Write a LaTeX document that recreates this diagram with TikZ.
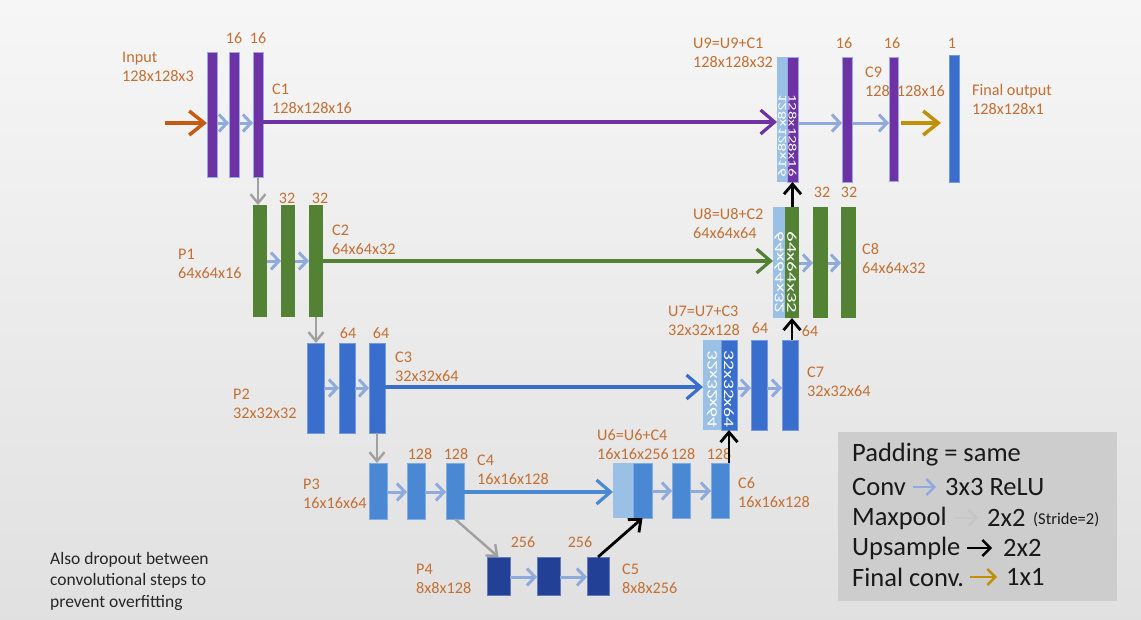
\documentclass[tikz,border=0pt]{standalone}
\usepackage{fontspec}
\setmainfont{Carlito}
\usetikzlibrary{arrows.meta}
\definecolor{cpurple}{RGB}{110,50,165}
\definecolor{cgreen}{RGB}{84,130,53}
\definecolor{cblue3}{RGB}{58,110,205}
\definecolor{cblue4}{RGB}{74,136,212}
\definecolor{cnavy}{RGB}{33,64,150}
\definecolor{clight}{RGB}{155,192,230}
\definecolor{cconv}{RGB}{143,170,220}
\definecolor{cpool}{RGB}{160,160,160}
\definecolor{corange}{RGB}{197,90,17}
\definecolor{cgold}{RGB}{191,144,0}
\definecolor{clab}{RGB}{196,112,52}
\definecolor{cedge}{RGB}{150,170,235}
\definecolor{cleg}{RGB}{205,205,205}
\newcommand\mybar[6]{\node[bar,#6,minimum width=#4,minimum height=#5] (#1) at (#2,#3) {};}
\tikzset{
  bar/.style={inner sep=0pt, outer sep=0pt, anchor=north west},
  pbar/.style={fill=cpurple, draw=cedge, line width=0.8pt},
  gbar/.style={fill=cgreen},
  b3bar/.style={fill=cblue3, draw=cblue3!70!white, line width=0.6pt},
  b4bar/.style={fill=cblue4, draw=cblue4!70!white, line width=0.6pt},
  nbar/.style={fill=cnavy, draw=cnavy!70!white, line width=0.6pt},
  lbar/.style={fill=clight},
  lab/.style={text=clab, font=\fontsize{16.2}{19}\selectfont, align=left, anchor=west, inner sep=0pt},
  num/.style={text=clab, font=\fontsize{16}{18}\selectfont, inner sep=0pt},
  vtxt/.style={text=white, inner sep=0pt},
  convarr/.style={draw=cconv, line width=3pt, -{Straight Barb[length=8pt,width=17pt]}},
  poolarr/.style={draw=cpool, line width=2.4pt, -{Straight Barb[length=9pt,width=15pt]}},
  uparr/.style={draw=black, line width=2.8pt, -{Straight Barb[length=10pt,width=17pt]}},
  skiparr/.style={line width=3.2pt, -{Straight Barb[length=14pt,width=24pt]}},
  inarr/.style={draw=corange, line width=3.5pt, -{Straight Barb[length=15pt,width=24pt]}},
  finarr/.style={draw=cgold, line width=3.5pt, -{Straight Barb[length=15pt,width=24pt]}},
  legarr/.style={line width=2.4pt, -{Straight Barb[length=8pt,width=16pt]}},
  legtxt/.style={anchor=west, inner sep=0pt, text=black!90, font=\fontsize{26.5}{30}\selectfont},
  note/.style={anchor=north west, inner sep=0pt, align=left, text=black!85, font=\fontsize{17.5}{21.5}\selectfont}
}
\begin{document}
\begin{tikzpicture}[x=1pt,y=-1pt]
\useasboundingbox (0,0) rectangle (1141,619);
\shade[top color=gray!7, middle color=white, bottom color=gray!24] (0,0) rectangle (1141,619);
% legend box
\node[bar, fill=cleg, minimum width=279, minimum height=169] (leg) at (838,432) {};
% row coordinates
\coordinate (r1) at (0,123);
\coordinate (r2) at (0,261);
\coordinate (r3) at (0,388);
\coordinate (r4) at (0,492);
\coordinate (r5) at (0,577);
\coordinate (d2) at (0,263);
\coordinate (d4) at (0,491);
% labels
\node[lab] (tin) at (122,67) {Input\\128x128x3};
\node[num] (n12) at (234,38) {16};
\node[num] (n13) at (258,38) {16};
\node[lab] (tc1) at (272,98.5) {C1\\128x128x16};
\node[lab] (tu9) at (693,53) {U9=U9+C1\\128x128x32};
\node[num] (n91) at (844,43) {16};
\node[num] (n92) at (892,43) {16};
\node[num] (n93) at (952,43) {1};
\node[lab] (tc9) at (865,82) {C9\\128x128x16};
\node[lab] (tfo) at (972,99) {Final output\\128x128x1};
\node[num] (n81) at (822,192) {32};
\node[num] (n82) at (849,192) {32};
\node[num] (n22) at (287,198) {32};
\node[num] (n23) at (320,198) {32};
\node[lab] (tp1) at (178,264) {P1\\64x64x16};
\node[lab] (tc2) at (332,240) {C2\\64x64x32};
\node[lab] (tu8) at (693,224) {U8=U8+C2\\64x64x64};
\node[lab] (tc8) at (862,258.5) {C8\\64x64x32};
\node[num] (n32) at (348,333) {64};
\node[num] (n33) at (381,333) {64};
\node[lab] (tp2) at (233,404) {P2\\32x32x32};
\node[lab] (tc3) at (395,367) {C3\\32x32x64};
\node[lab] (tu7) at (668,321) {U7=U7+C3\\32x32x128};
\node[num] (n71) at (760,328) {64};
\node[num] (n72) at (810,331) {64};
\node[lab] (tc7) at (807,382) {C7\\32x32x64};
\node[num] (n42) at (420,454) {128};
\node[num] (n43) at (456,454) {128};
\node[lab] (tp3) at (303,494) {P3\\16x16x64};
\node[lab] (tc4) at (477,470) {C4\\16x16x128};
\node[lab] (tu6) at (597,445) {U6=U6+C4\\16x16x256};
\node[num] (n61) at (683,454) {128};
\node[num] (n62) at (719,454) {128};
\node[lab] (tc6) at (738,492.5) {C6\\16x16x128};
\node[num] (n52) at (523,542) {256};
\node[num] (n53) at (580,542) {256};
\node[lab] (tp4) at (416,579) {P4\\8x8x128};
\node[lab] (tc5) at (622,579) {C5\\8x8x256};
% bars: encoder
\mybar{b11}{207}{52}{10}{125}{pbar}
\mybar{b12}{229}{52}{10}{125}{pbar}
\mybar{b13}{253}{52}{10}{125}{pbar}
\mybar{b21}{253}{205}{14}{112}{gbar}
\mybar{b22}{281}{205}{14}{112}{gbar}
\mybar{b23}{309}{205}{14}{112}{gbar}
\mybar{b31}{307}{343}{17}{90}{b3bar}
\mybar{b32}{339}{343}{16}{90}{b3bar}
\mybar{b33}{369}{343}{16}{90}{b3bar}
\mybar{b41}{369}{463}{18}{56}{b4bar}
\mybar{b42}{407}{463}{18}{56}{b4bar}
\mybar{b43}{446}{463}{18}{56}{b4bar}
\mybar{b51}{487}{557}{23}{38}{nbar}
\mybar{b52}{537}{557}{23}{38}{nbar}
\mybar{b53}{587}{557}{22}{38}{nbar}
% bars: decoder
\mybar{u9l}{777}{57}{10}{125}{lbar}
\mybar{u9d}{787}{57}{11}{125}{pbar}
\mybar{c91}{842}{57}{10}{125}{pbar}
\mybar{c92}{889}{57}{9}{124}{pbar}
\mybar{fo}{949}{55}{10}{127}{b3bar}
\mybar{u8l}{773}{207}{12}{111}{lbar}
\mybar{u8d}{785}{207}{14}{111}{gbar}
\mybar{c81}{813}{207}{15}{111}{gbar}
\mybar{c82}{841}{207}{15}{111}{gbar}
\mybar{u7l}{703}{340}{18}{90}{lbar}
\mybar{u7d}{721}{340}{16}{90}{b3bar}
\mybar{c71}{751}{340}{16}{90}{b3bar}
\mybar{c72}{782}{340}{16}{90}{b3bar}
\mybar{u6l}{613}{463}{20}{55}{lbar}
\mybar{u6d}{633}{463}{19}{55}{b4bar}
\mybar{c61}{672}{463}{18}{55}{b4bar}
\mybar{c62}{711}{463}{18}{55}{b4bar}
% texts in concatenated bars
\node[vtxt, font=\fontsize{11.5}{12}\selectfont, rotate=-90, xscale=1.45, yscale=-1] (u9lt) at ([yshift=-16pt]u9l.center) {128x128x16};
\node[vtxt, font=\fontsize{11.5}{12}\selectfont, rotate=-90, xscale=1.45] (u9dt) at ([yshift=-16pt]u9d.center) {128x128x16};
\node[vtxt, font=\fontsize{13.5}{14}\selectfont, rotate=-90, xscale=1.55, yscale=-1] (u8lt) at ([yshift=-10pt]u8l.center) {64x64x32};
\node[vtxt, font=\fontsize{13.5}{14}\selectfont, rotate=-90, xscale=1.55] (u8dt) at ([yshift=-10pt]u8d.center) {64x64x32};
\node[vtxt, font=\fontsize{14.5}{15}\selectfont, rotate=-90, xscale=1.35, yscale=-1] (u7lt) at ([yshift=-4pt]u7l.center) {32x32x64};
\node[vtxt, font=\fontsize{14.5}{15}\selectfont, rotate=-90, xscale=1.35] (u7dt) at ([yshift=-4pt]u7d.center) {32x32x64};
% input / output arrows
\coordinate (in0) at (165,123);
\draw[inarr] (in0) -- (b11.west |- r1);
\coordinate (g1) at (901,123);
\coordinate (g2) at (941,123);
\draw[finarr] (g1) -- (g2);
% conv arrows encoder
\draw[convarr] (b11.east |- r1) -- (b12.west |- r1);
\draw[convarr] (b12.east |- r1) -- (b13.west |- r1);
\draw[convarr] (b21.east |- r2) -- (b22.west |- r2);
\draw[convarr] (b22.east |- r2) -- (b23.west |- r2);
\draw[convarr] (b31.east |- r3) -- (b32.west |- r3);
\draw[convarr] (b32.east |- r3) -- (b33.west |- r3);
\draw[convarr] (b41.east |- r4) -- (b42.west |- r4);
\draw[convarr] (b42.east |- r4) -- (b43.west |- r4);
\draw[convarr] (b51.east |- r5) -- (b52.west |- r5);
\draw[convarr] (b52.east |- r5) -- (b53.west |- r5);
% conv arrows decoder
\draw[convarr] (u9d.east |- r1) -- (c91.west |- r1);
\draw[convarr] (c91.east |- r1) -- (c92.west |- r1);
\draw[convarr] (u8d.east |- d2) -- (c81.west |- d2);
\draw[convarr] (c81.east |- d2) -- (c82.west |- d2);
\draw[convarr] (u7d.east |- r3) -- (c71.west |- r3);
\draw[convarr] (c71.east |- r3) -- (c72.west |- r3);
\draw[convarr] (u6d.east |- d4) -- (c61.west |- d4);
\draw[convarr] (c61.east |- d4) -- (c62.west |- d4);
% maxpool arrows
\draw[poolarr] (b13.south) -- (b13.south |- b21.north);
\draw[poolarr] (b23.south) -- (b23.south |- b31.north);
\draw[poolarr] (b33.south) -- (b33.south |- b41.north);
\draw[poolarr] (b43.south) -- (b51.north);
% skip connections
\draw[skiparr, draw=cpurple] (b13.east |- 0,122) -- (u9l.west |- 0,122);
\draw[skiparr, draw=cgreen] (b23.east |- r2) -- (u8l.west |- r2);
\draw[skiparr, draw=cblue3] (b33.east |- 0,387) -- (u7l.west |- 0,387);
\draw[skiparr, draw=cblue4] (b43.east |- r4) -- (u6l.west |- r4);
% upsample arrows
\draw[uparr] (b53.north) -- (u6d.south);
\draw[uparr] (u7d.south |- c62.north) -- (u7d.south);
\draw[uparr] (u8d.south |- c72.north) -- (u8d.south);
\draw[uparr] (u9d.south |- u8d.north) -- (u9d.south);
% legend
\node[legtxt] (l1) at (852,455) {Padding = same};
\node[legtxt] (l2a) at (852,487) {Conv};
\node[legtxt] (l2b) at (945,487) {3x3 ReLU};
\node[legtxt] (l3a) at (852,518) {Maxpool};
\node[legtxt] (l3b) at (987,518) {2x2};
\node[anchor=west, inner sep=0pt, text=black!90, font=\fontsize{16.5}{18}\selectfont] (l3c) at (1033,520) {(Stride=2)};
\node[legtxt] (l4a) at (852,548) {Upsample};
\node[legtxt] (l4b) at (1003,548) {2x2};
\node[legtxt] (l5a) at (852,577) {Final conv.};
\node[legtxt] (l5b) at (1006,577) {1x1};
\draw[legarr, draw=cconv] ([xshift=7pt]l2a.east) -- ([xshift=-9pt]l2b.west);
\draw[legarr, draw=gray!45] ([xshift=8pt]l3a.east) -- ([xshift=-9pt]l3b.west);
\draw[legarr, draw=black] ([xshift=6pt]l4a.east) -- ([xshift=-11pt]l4b.west);
\draw[legarr, draw=cgold] ([xshift=6pt]l5a.east) -- ([xshift=-9pt]l5b.west);
% note
\node[note] (nt) at (50,552) {Also dropout between\\convolutional steps to\\prevent overfitting};
\end{tikzpicture}
\end{document}
